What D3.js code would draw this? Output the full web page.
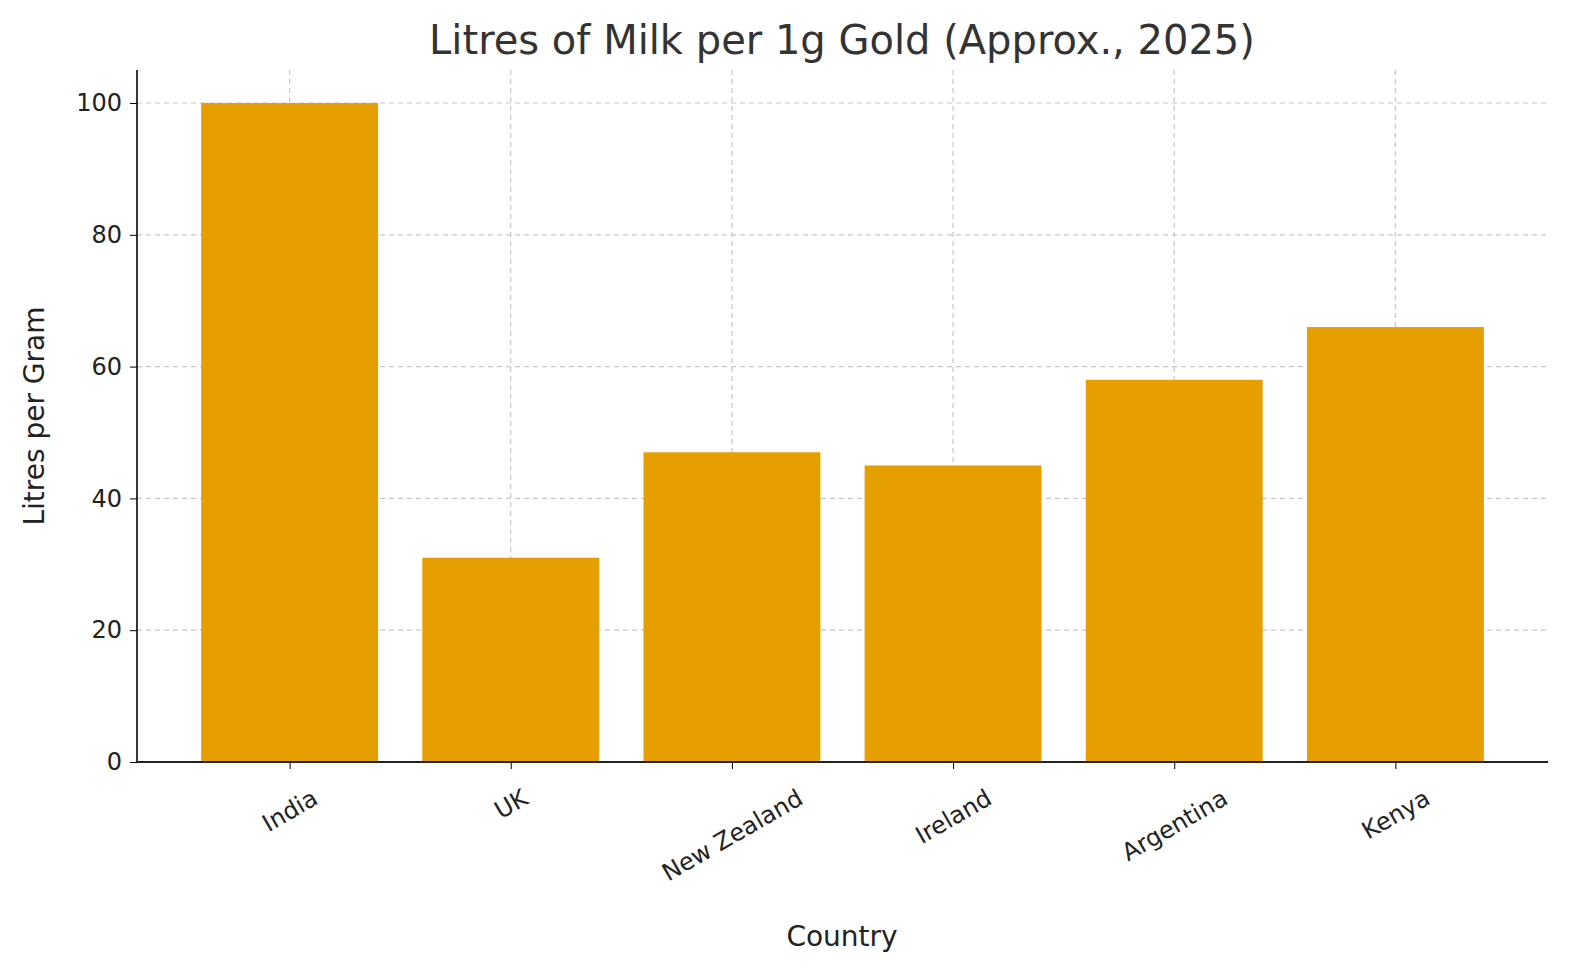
<!DOCTYPE html>
<html><head><meta charset="utf-8">
<script src="https://cdn.jsdelivr.net/npm/d3@7"></script>
<style>html,body{margin:0;background:#fff;overflow:hidden}svg{display:block;font-family:"DejaVu Sans",sans-serif}</style>
</head><body><svg id="c" width="1580" height="980"></svg>
<script>
const categories=["India","UK","New Zealand","Ireland","Argentina","Kenya"];
const values=[100,31,47,45,58,66];
const yTicks=[0,20,40,60,80,100];
const svg=d3.select("#c");
const L=137,R=1548,T=70,B=762;
const x=d3.scaleLinear().domain([-0.69,5.69]).range([L,R]);
const y=d3.scaleLinear().domain([0,100]).range([B,103]);
const g=svg.append("g");
g.selectAll(".gy").data(yTicks).enter().append("line").attr("x1",L).attr("x2",R).attr("y1",d=>y(d)).attr("y2",d=>y(d)).attr("stroke","#c8c8c8").attr("stroke-dasharray","5,4").attr("stroke-width",1.2);
g.selectAll(".gx").data(categories).enter().append("line").attr("x1",(d,i)=>x(i)).attr("x2",(d,i)=>x(i)).attr("y1",T).attr("y2",B).attr("stroke","#c8c8c8").attr("stroke-dasharray","5,4").attr("stroke-width",1.2);
const bw=x(0.8)-x(0);
g.selectAll(".bar").data(values).enter().append("rect").attr("x",(d,i)=>x(i)-bw/2).attr("width",bw).attr("y",d=>y(d)).attr("height",d=>B-y(d)).attr("fill","#E69F00");
const ya=svg.append("g").attr("transform",`translate(${L},0)`).call(d3.axisLeft(y).tickValues(yTicks).tickSize(7).tickPadding(8));
ya.attr("font-family","DejaVu Sans").attr("font-size",24);
ya.select(".domain").attr("d",`M0,${T}V${B}`).attr("stroke","#222").attr("stroke-width",1.8);
ya.selectAll("text").attr("fill","#222");
const xa=svg.append("g").attr("transform",`translate(0,${B})`).call(d3.axisBottom(x).tickValues(d3.range(categories.length)).tickFormat(i=>categories[i]).tickSize(7));
xa.attr("font-family","DejaVu Sans").attr("font-size",24);
xa.select(".domain").attr("d",`M${L},0H${R}`).attr("stroke","#222").attr("stroke-width",1.8);
xa.selectAll("text").attr("fill","#222").attr("text-anchor","middle").attr("y",0).attr("dy",0)
  .attr("transform",function(){const w=this.getComputedTextLength();const h=Math.sin(Math.PI/6)*w/2+22;return `translate(0,${h+12}) rotate(-30)`;})
  .attr("dominant-baseline","central");
svg.append("text").attr("x",842).attr("y",54).attr("text-anchor","middle").attr("font-size",40).attr("fill","#333").text("Litres of Milk per 1g Gold (Approx., 2025)");
svg.append("text").attr("x",842).attr("y",946).attr("text-anchor","middle").attr("font-size",28).attr("fill","#222").text("Country");
svg.append("text").attr("transform","translate(44,416) rotate(-90)").attr("text-anchor","middle").attr("font-size",28).attr("fill","#222").text("Litres per Gram");
</script></body></html>
